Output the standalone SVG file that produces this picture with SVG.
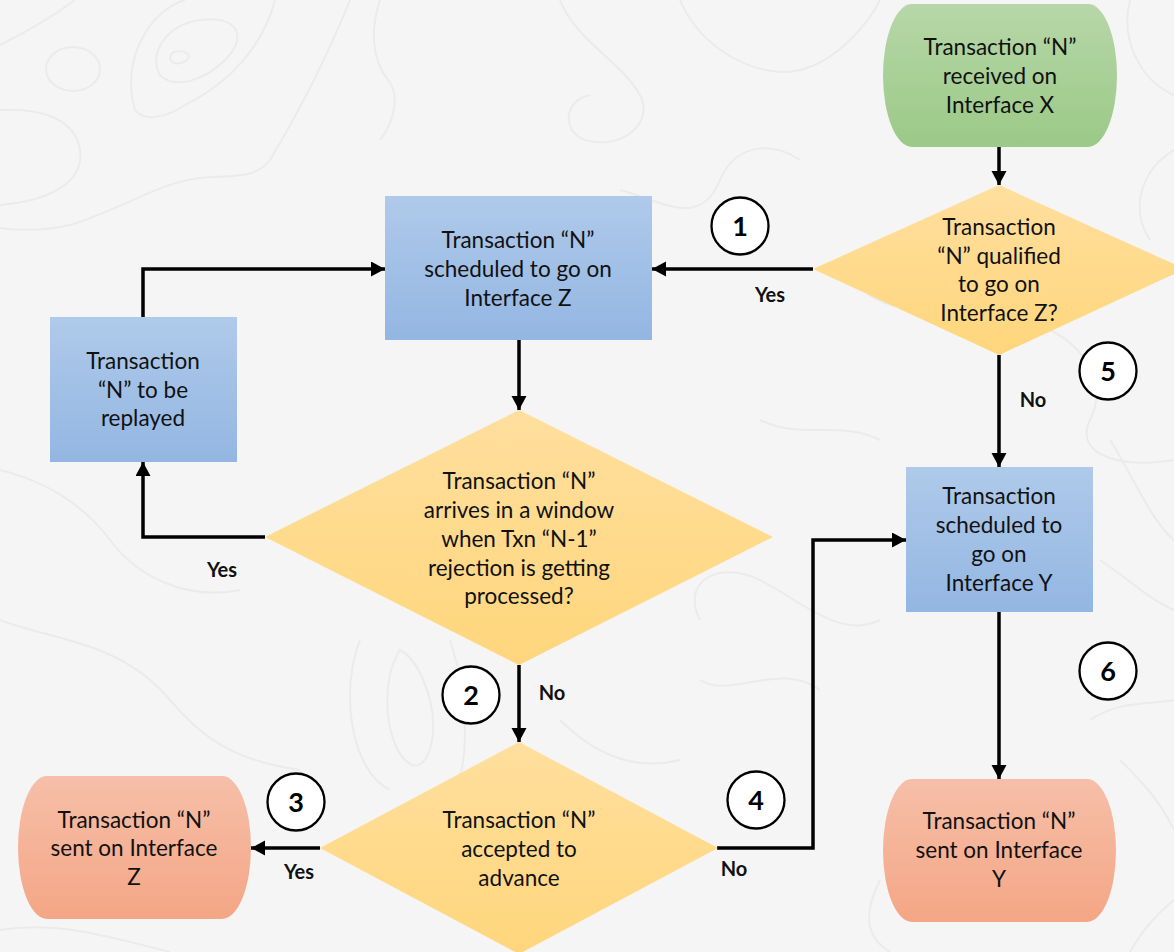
<svg xmlns="http://www.w3.org/2000/svg" width="1174" height="952" viewBox="0 0 1174 952">
  <defs>
    <linearGradient id="gGreen" x1="0" y1="0" x2="0" y2="1">
      <stop offset="0" stop-color="#b7d7a8"/>
      <stop offset="1" stop-color="#9bc987"/>
    </linearGradient>
    <linearGradient id="gBlue" x1="0" y1="0" x2="0" y2="1">
      <stop offset="0" stop-color="#afcaea"/>
      <stop offset="1" stop-color="#93b6e2"/>
    </linearGradient>
    <linearGradient id="gGold" x1="0" y1="0" x2="0" y2="1">
      <stop offset="0" stop-color="#ffdf9e"/>
      <stop offset="1" stop-color="#ffd67c"/>
    </linearGradient>
    <linearGradient id="gSalmon" x1="0" y1="0" x2="0" y2="1">
      <stop offset="0" stop-color="#f6bfa9"/>
      <stop offset="1" stop-color="#f4a685"/>
    </linearGradient>
    <marker id="arrow" markerUnits="userSpaceOnUse" markerWidth="16" markerHeight="16" refX="14" refY="7.5" orient="auto">
      <path d="M0,0 L14,7.5 L0,15 z" fill="#000"/>
    </marker>
  </defs>
  <style>
    .label { font-family: Lato, "Liberation Sans", sans-serif; font-size: 22.5px; fill: #111; text-anchor: middle; }
    .branch { font-family: Lato, "Liberation Sans", sans-serif; font-size: 20px; font-weight: bold; fill: #111; text-anchor: middle; }
    .step circle { fill: #fff; stroke: #000; stroke-width: 2.3; }
    .step text { font-family: Lato, "Liberation Sans", sans-serif; font-size: 27px; font-weight: bold; fill: #000; text-anchor: middle; }
    .wire { fill: none; stroke: #000; stroke-width: 3.5; stroke-linejoin: miter; marker-end: url(#arrow); }
    .contour { fill: none; stroke: #ebebeb; stroke-width: 2; }
  </style>

  <!-- paper background with faint contour lines -->
  <rect x="0" y="0" width="1174" height="952" fill="#f5f5f5"/>
  <g id="contours" class="contour">
    <ellipse cx="73" cy="69" rx="27" ry="22"/>
    <path d="M172,62 C165,52 180,48 188,54 C192,60 180,66 172,62 Z"/>
    <path d="M160,75 C148,55 165,25 200,20 C235,15 250,35 225,60 C205,80 175,90 160,75 Z"/>
    <path d="M135,110 C120,60 150,10 185,0 M275,0 C265,40 235,80 185,105 C165,118 145,122 135,110"/>
    <path d="M350,0 C330,50 300,110 270,160 C255,180 230,175 200,178 C160,182 120,210 70,225 C40,232 15,230 0,228"/>
    <path d="M0,110 C40,108 75,118 80,150 C84,180 55,200 0,205"/>
    <path d="M0,45 C30,30 55,15 75,0"/>
    <path d="M380,0 C370,30 372,60 388,80 C400,95 395,120 380,140"/>
    <path d="M560,0 C575,40 620,60 640,95 C655,125 620,150 585,140 C560,130 565,100 590,95"/>
    <path d="M680,0 C700,50 760,80 800,70 C840,60 870,20 880,0"/>
    <path d="M620,190 C660,200 700,230 720,180 C735,145 770,140 800,160"/>
    <path d="M1130,0 C1120,40 1140,80 1174,95"/>
    <path d="M1174,150 C1140,170 1130,210 1150,240"/>
    <path d="M1050,330 C1080,345 1110,380 1090,420 C1075,450 1110,470 1174,460"/>
    <path d="M1110,440 C1130,470 1150,520 1174,540"/>
    <path d="M1100,560 C1130,580 1150,600 1174,610"/>
    <path d="M1090,720 C1120,700 1150,705 1174,700"/>
    <path d="M1120,760 C1140,780 1160,800 1174,830"/>
    <path d="M0,470 C40,480 80,500 110,540 C140,580 190,600 240,590"/>
    <path d="M0,620 C50,640 120,640 170,700 C200,735 230,760 300,770"/>
    <path d="M0,930 C60,920 120,940 170,952"/>
    <path d="M400,650 C380,680 385,740 405,760 C425,780 440,740 430,700 C422,670 410,655 400,650 Z"/>
    <path d="M360,640 C340,690 350,770 390,790 M450,640 C470,700 470,770 450,800"/>
    <path d="M560,720 C600,760 640,770 680,760"/>
    <path d="M700,620 C680,580 720,560 760,580 C800,600 840,640 880,620"/>
    <path d="M700,680 C730,700 780,660 820,690"/>
    <path d="M840,260 C860,300 900,320 950,300"/>
    <path d="M760,420 C800,440 840,420 880,440"/>
    <path d="M880,880 C860,920 870,940 890,952"/>
    <path d="M1174,900 C1150,920 1140,935 1130,952"/>
  </g>

  <!-- connectors -->
  <g id="connectors">
    <path class="wire" d="M999,147 L999,185"/>
    <path class="wire" d="M813,269 L652,269"/>
    <path class="wire" d="M999,355 L999,467"/>
    <path class="wire" d="M519,340 L519,410"/>
    <path class="wire" d="M265,537 L143,537 L143,462"/>
    <path class="wire" d="M143,317 L143,269 L385,269"/>
    <path class="wire" d="M519,665 L519,742"/>
    <path class="wire" d="M320,848 L251,848"/>
    <path class="wire" d="M717,848 L813,848 L813,540 L906,540"/>
    <path class="wire" d="M999,612 L999,779"/>
    <text class="branch" x="770" y="302">Yes</text>
    <text class="branch" x="1033" y="407">No</text>
    <text class="branch" x="222" y="577">Yes</text>
    <text class="branch" x="552" y="700">No</text>
    <text class="branch" x="299" y="879">Yes</text>
    <text class="branch" x="734" y="876">No</text>
  </g>

  <!-- start: received on X -->
  <g id="start-received">
    <rect x="883" y="4" width="234" height="143" rx="29" ry="71.5" fill="url(#gGreen)"/>
    <text class="label"><tspan x="1000" y="55">Transaction “N”</tspan><tspan x="1000" y="84">received on</tspan><tspan x="1000" y="113">Interface X</tspan></text>
  </g>

  <!-- decision: qualified for Z -->
  <g id="decision-qualified">
    <polygon points="813,269 999,185 1185,269 999,355" fill="url(#gGold)"/>
    <text class="label"><tspan x="999" y="235">Transaction</tspan><tspan x="999" y="264">“N” qualified</tspan><tspan x="999" y="292">to go on</tspan><tspan x="999" y="321">Interface Z?</tspan></text>
  </g>

  <!-- process: scheduled on Z -->
  <g id="scheduled-z">
    <rect x="385" y="196" width="267" height="144" fill="url(#gBlue)"/>
    <text class="label"><tspan x="518" y="248">Transaction “N”</tspan><tspan x="518" y="277">scheduled to go on</tspan><tspan x="518" y="306">Interface Z</tspan></text>
  </g>

  <!-- process: replay -->
  <g id="replay">
    <rect x="50" y="317" width="187" height="145" fill="url(#gBlue)"/>
    <text class="label"><tspan x="143" y="369">Transaction</tspan><tspan x="143" y="398">“N” to be</tspan><tspan x="143" y="426">replayed</tspan></text>
  </g>

  <!-- decision: rejection window -->
  <g id="decision-window">
    <polygon points="265,537 519,410 773,537 519,665" fill="url(#gGold)"/>
    <text class="label"><tspan x="519" y="489">Transaction “N”</tspan><tspan x="519" y="518">arrives in a window</tspan><tspan x="519" y="547">when Txn “N-1”</tspan><tspan x="519" y="576">rejection is getting</tspan><tspan x="519" y="604">processed?</tspan></text>
  </g>

  <!-- process: scheduled on Y -->
  <g id="scheduled-y">
    <rect x="906" y="467" width="187" height="145" fill="url(#gBlue)"/>
    <text class="label"><tspan x="999" y="504">Transaction</tspan><tspan x="999" y="533">scheduled to</tspan><tspan x="999" y="562">go on</tspan><tspan x="999" y="591">Interface Y</tspan></text>
  </g>

  <!-- decision: accepted -->
  <g id="decision-accepted">
    <polygon points="320,848 519,742 718,848 519,954" fill="url(#gGold)"/>
    <text class="label"><tspan x="519" y="828">Transaction “N”</tspan><tspan x="519" y="857">accepted to</tspan><tspan x="519" y="886">advance</tspan></text>
  </g>

  <!-- end: sent on Z -->
  <g id="end-sent-z">
    <rect x="18" y="776" width="233" height="143" rx="29" ry="71.5" fill="url(#gSalmon)"/>
    <text class="label"><tspan x="134" y="828">Transaction “N”</tspan><tspan x="134" y="856">sent on Interface</tspan><tspan x="134" y="885">Z</tspan></text>
  </g>

  <!-- end: sent on Y -->
  <g id="end-sent-y">
    <rect x="883" y="779" width="233" height="143" rx="29" ry="71.5" fill="url(#gSalmon)"/>
    <text class="label"><tspan x="999" y="829">Transaction “N”</tspan><tspan x="999" y="858">sent on Interface</tspan><tspan x="999" y="887">Y</tspan></text>
  </g>

  <!-- numbered step markers -->
  <g id="step-1" class="step"><circle cx="740" cy="226" r="28.5"/><text x="740" y="236">1</text></g>
  <g id="step-2" class="step"><circle cx="471" cy="695" r="28.5"/><text x="471" y="705">2</text></g>
  <g id="step-3" class="step"><circle cx="296" cy="802" r="28.5"/><text x="296" y="812">3</text></g>
  <g id="step-4" class="step"><circle cx="756" cy="800" r="28.5"/><text x="756" y="810">4</text></g>
  <g id="step-5" class="step"><circle cx="1108" cy="371" r="28.5"/><text x="1108" y="381">5</text></g>
  <g id="step-6" class="step"><circle cx="1108" cy="671" r="28.5"/><text x="1108" y="681">6</text></g>
</svg>
